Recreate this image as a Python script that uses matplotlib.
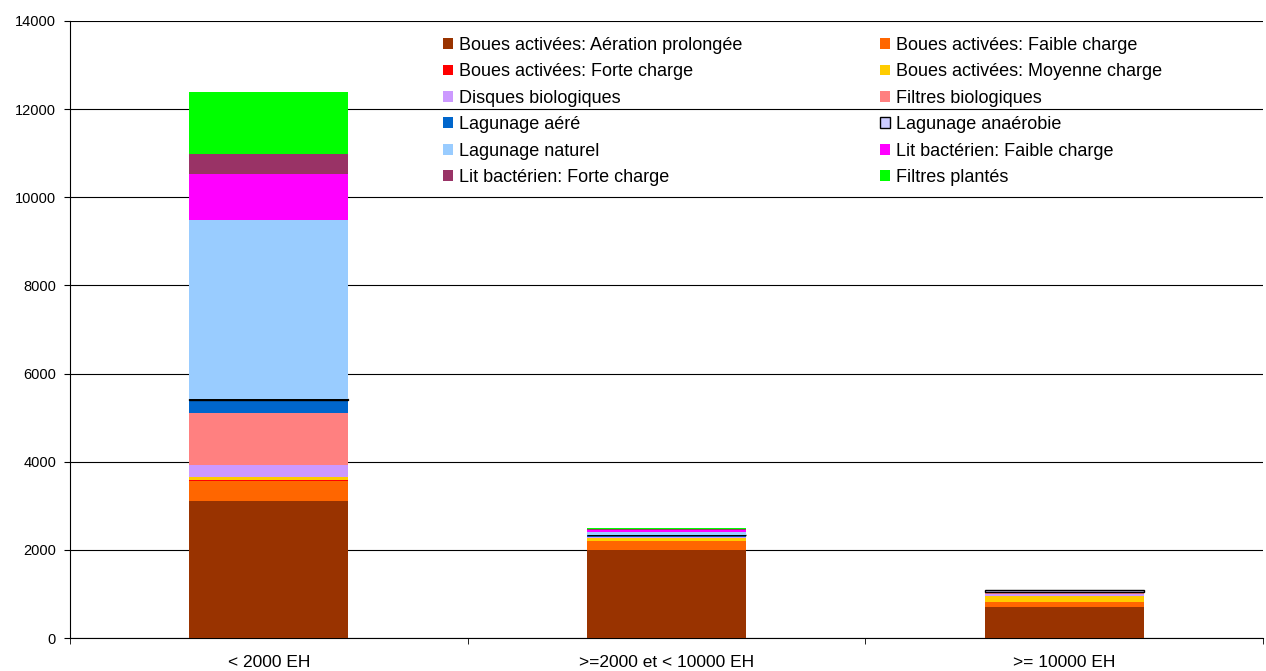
import matplotlib.pyplot as plt
import numpy as np

plt.rcParams["font.family"] = ["Liberation Sans", "DejaVu Sans"]

categories = ["< 2000 EH", ">=2000 et < 10000 EH", ">= 10000 EH"]

series_names = [
    "Boues activées: Aération prolongée",
    "Boues activées: Faible charge",
    "Boues activées: Forte charge",
    "Boues activées: Moyenne charge",
    "Disques biologiques",
    "Filtres biologiques",
    "Lagunage aéré",
    "Lagunage anaérobie",
    "Lagunage naturel",
    "Lit bactérien: Faible charge",
    "Lit bactérien: Forte charge",
    "Filtres plantés",
]

# capacity per treatment type, one list per size class
aeration_prolongee = [3110, 1995, 705]
faible_charge = [450, 195, 115]
forte_charge = [20, 20, 5]
moyenne_charge = [75, 65, 130]
disques_bio = [270, 10, 40]
filtres_bio = [1180, 12, 50]
lagunage_aere = [300, 45, 3]
lagunage_anaerobie = [15, 5, 30]
lagunage_naturel = [4065, 65, 5]
lit_faible = [1045, 30, 5]
lit_forte = [455, 20, 3]
filtres_plantes = [1405, 40, 0]

values = [aeration_prolongee, faible_charge, forte_charge, moyenne_charge,
          disques_bio, filtres_bio, lagunage_aere, lagunage_anaerobie,
          lagunage_naturel, lit_faible, lit_forte, filtres_plantes]

colors = ["#993300", "#FF6600", "#FF0000", "#FFCC00", "#CC99FF", "#FF8080",
          "#0066CC", "#CCCCFF", "#99CCFF", "#FF00FF", "#993366", "#00FF00"]

fig = plt.figure(figsize=(12.66, 6.71), dpi=100)
ax = fig.add_axes([70 / 1266, 33 / 671, 1193 / 1266, 617 / 671])

x = np.arange(len(categories))
bottom = np.zeros(len(categories))
handles = []
for name, vals, col in zip(series_names, values, colors):
    vals = np.array(vals, dtype=float)
    if name == "Lagunage anaérobie":
        bars = ax.bar(x, vals, 0.4, bottom=bottom, color=col, edgecolor="black",
                      linewidth=1.0, label=name, zorder=3)
    else:
        bars = ax.bar(x, vals, 0.4, bottom=bottom, color=col, linewidth=0,
                      label=name, zorder=3)
    handles.append(bars)
    bottom += vals

ax.set_xlim(-0.5, 2.5)
ax.set_ylim(0, 14000)
ax.set_yticks(np.arange(0, 14001, 2000))
ax.yaxis.grid(True, color="black", linewidth=0.8, zorder=0)
ax.set_axisbelow(True)

ax.set_xticks(x)
ax.set_xticklabels(categories)
ax.set_xticks([-0.5, 0.5, 1.5, 2.5], minor=True)
ax.tick_params(axis="x", which="major", length=0, pad=12, labelsize=12.5)
ax.tick_params(axis="x", which="minor", length=4, direction="out", color="black")
ax.tick_params(axis="y", length=4, direction="out", pad=6, labelsize=10.5)

for side in ("top", "right"):
    ax.spines[side].set_visible(False)
ax.spines["left"].set_color("black")
ax.spines["bottom"].set_color("black")

# legend fills row by row in two columns
order = [0, 2, 4, 6, 8, 10, 1, 3, 5, 7, 9, 11]
leg = fig.legend([handles[i] for i in order], [series_names[i] for i in order],
                 ncol=2, loc="upper left", bbox_to_anchor=(443 / 1266, 1 - 37 / 671),
                 frameon=False, fontsize=13, handlelength=0.55, handleheight=0.55,
                 handletextpad=0.35, columnspacing=7.6, labelspacing=0.52,
                 borderpad=0, borderaxespad=0)

fig.savefig("out.png", dpi=100)
